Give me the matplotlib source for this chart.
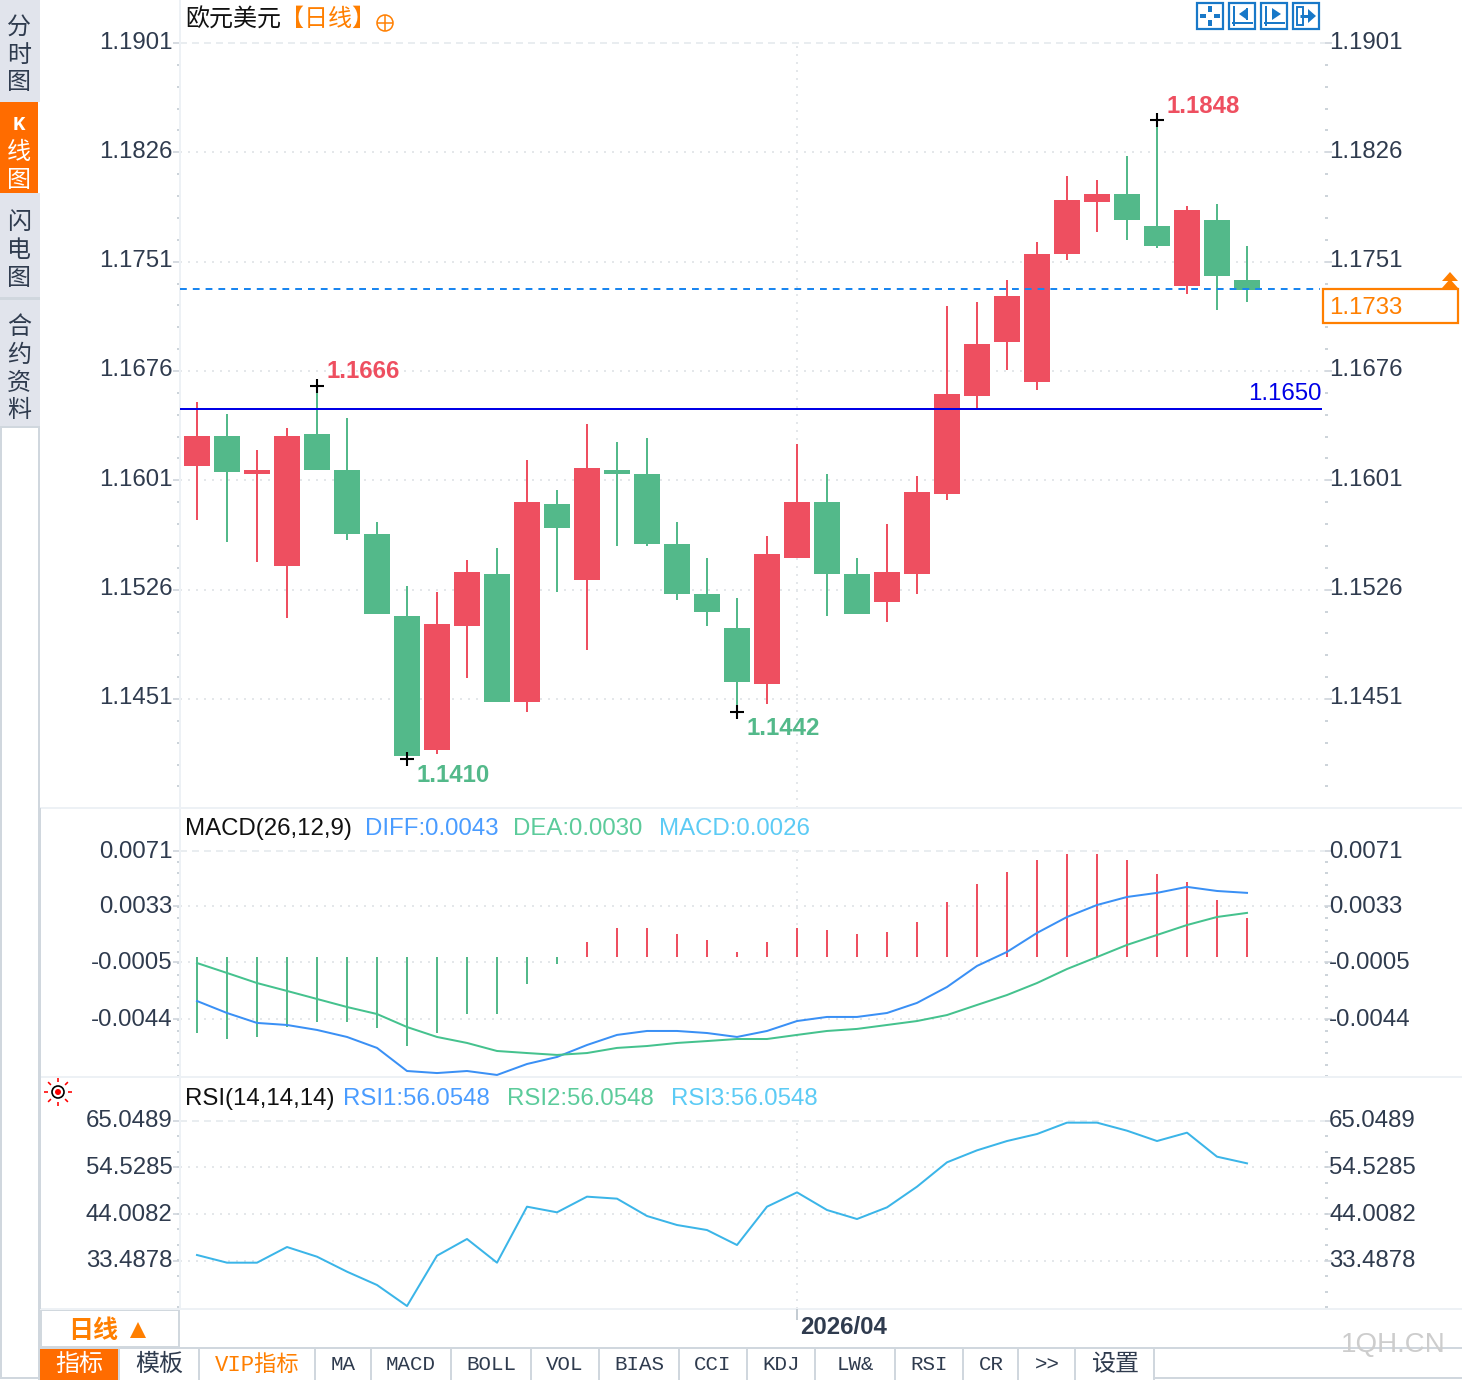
import numpy as np
import matplotlib
matplotlib.use('Agg')
import matplotlib.pyplot as plt
from matplotlib.patches import Rectangle, Circle, Polygon
from matplotlib.transforms import ScaledTranslation

plt.rcParams['font.family'] = ['Liberation Sans', 'Noto Sans CJK SC', 'DejaVu Sans']

# candles
openPrice = [1.16108, 1.16314, 1.16053, 1.15422, 1.16328, 1.16081, 1.15642, 1.15079, 1.14160, 1.15011, 1.15367, 1.14489,
             1.15848, 1.15326, 1.16081, 1.16053, 1.15573, 1.15230, 1.14997, 1.14613, 1.15477, 1.15861, 1.15367, 1.15175,
             1.15367, 1.15916, 1.16588, 1.16959, 1.16684, 1.17563, 1.17919, 1.17974, 1.17755, 1.17343, 1.17796, 1.17384]
closePrice = [1.16314, 1.16067, 1.16081, 1.16314, 1.16081, 1.15642, 1.15093, 1.14119, 1.15024, 1.15381, 1.14489, 1.15861,
              1.15683, 1.16094, 1.16053, 1.15573, 1.15230, 1.15107, 1.14626, 1.15505, 1.15861, 1.15367, 1.15093, 1.15381,
              1.15930, 1.16602, 1.16945, 1.17274, 1.17563, 1.17933, 1.17974, 1.17796, 1.17617, 1.17864, 1.17412, 1.17316]
highPrice = [1.16547, 1.16465, 1.16218, 1.16369, 1.16657, 1.16437, 1.15724, 1.15285, 1.15244, 1.15463, 1.15546, 1.16149,
             1.15944, 1.16396, 1.16273, 1.16300, 1.15724, 1.15477, 1.15203, 1.15628, 1.16259, 1.16053, 1.15477, 1.15710,
             1.16040, 1.17206, 1.17233, 1.17384, 1.17645, 1.18098, 1.18070, 1.18235, 1.18482, 1.17892, 1.17906, 1.17617]
lowPrice = [1.15738, 1.15587, 1.15450, 1.15065, 1.16081, 1.15601, 1.15093, 1.14105, 1.14133, 1.14654, 1.14489, 1.14421,
            1.15244, 1.14846, 1.15559, 1.15559, 1.15189, 1.15011, 1.14421, 1.14476, 1.15477, 1.15079, 1.15093, 1.15038,
            1.15230, 1.15875, 1.16506, 1.16767, 1.16630, 1.17521, 1.17713, 1.17659, 1.17604, 1.17288, 1.17178, 1.17233]

priceTicks = [1.1901, 1.1826, 1.1751, 1.1676, 1.1601, 1.1526, 1.1451]
priceLabels = ['1.1901', '1.1826', '1.1751', '1.1676', '1.1601', '1.1526', '1.1451']
lastPrice = 1.17323
levelPrice = 1.1650
markIndex = [4, 7, 18, 32]
markPrice = [1.1666, 1.1410, 1.1442, 1.1848]

# macd
macdHist = [-.00536, -.00577, -.00563, -.00495, -.00460, -.00460, -.00502, -.00625, -.00536, -.00406, -.00406, -.00200,
            -.00063, .00087, .00183, .00183, .00142, .00101, .00019, .00087, .00183, .00169, .00142, .00156,
            .00224, .00361, .00484, .00566, .00648, .00689, .00689, .00648, .00553, .00498, .00375, .00251]
macdBase = -.00016
diffLine = [-.00317, -.00399, -.00467, -.00481, -.00515, -.00563, -.00638, -.00796, -.00810, -.00796, -.00823, -.00748,
            -.00700, -.00618, -.00549, -.00522, -.00522, -.00536, -.00563, -.00522, -.00454, -.00426, -.00426, -.00399,
            -.00330, -.00221, -.00077, .00019, .00149, .00258, .00340, .00395, .00423, .00464, .00436, .00423]
deaLine = [-.00057, -.00125, -.00194, -.00248, -.00303, -.00358, -.00406, -.00495, -.00563, -.00604, -.00659, -.00673,
           -.00686, -.00673, -.00638, -.00625, -.00604, -.00591, -.00577, -.00577, -.00549, -.00522, -.00508, -.00481,
           -.00454, -.00413, -.00344, -.00276, -.00194, -.00098, -.00016, .00067, .00135, .00203, .00258, .00286]
macdTicks = [0.0071, 0.0033, -0.0005, -0.0044]
macdLabels = ['0.0071', '0.0033', '-0.0005', '-0.0044']

# rsi
rsiLine = [34.78, 33.05, 33.05, 36.58, 34.40, 31.02, 28.02, 23.28, 34.63, 38.39, 33.05, 45.67,
           44.40, 47.93, 47.48, 43.57, 41.54, 40.41, 37.03, 45.67, 48.90, 44.92, 42.89, 45.52,
           50.18, 55.67, 58.37, 60.47, 62.05, 64.61, 64.61, 62.80, 60.47, 62.35, 56.94, 55.44]
rsiTicks = [65.0489, 54.5285, 44.0082, 33.4878]
rsiLabels = ['65.0489', '54.5285', '44.0082', '33.4878']

dateIndex = 20
dateLabel = '2026/04'

RED = '#ee4f60'
GREEN = '#53b98a'
ORANGE = '#ff7f00'
TAB_ORANGE = '#ff6c00'
TEXT = '#2f3b4e'
BORDER = '#d0d7de'
PANEL_LINE = '#edf1f5'
GRID = '#e4e7ea'

W, H = 1462, 1380
fig = plt.figure(figsize=(W / 100, H / 100), dpi=100, facecolor='white')
px = 72 / 100  # one pixel in points


def makePanel(top, bottom, ylim, ticks, labels, minorStep, lift):
    ax = fig.add_axes([180 / W, 1 - bottom / H, (1325 - 180) / W, (bottom - top) / H])
    ax.set_xlim((180 - 197) / 30, (1325 - 197) / 30)
    ax.set_ylim(*ylim)
    minors = np.arange(ticks[0], ylim[0], -minorStep)
    right = ax.twinx()
    for a in [ax, right]:
        a.set_ylim(*ylim)
        a.set_yticks(ticks, labels)
        a.set_yticks(minors, minor=True)
        a.set_xticks([])
        for name, sp in a.spines.items():
            sp.set_visible(False)
        a.tick_params(axis='y', which='major', length=5, width=1.4, color='#d5dbe1',
                      pad=0.5 if a is ax else -2.1, labelsize=17.3, labelcolor=TEXT)
        a.tick_params(axis='y', which='minor', length=2, width=2 * px, color='#cdd4da')
        # the labels sit a little above their gridline
        for lab in a.get_yticklabels():
            lab.set_transform(lab.get_transform() + ScaledTranslation(0, lift / 100, fig.dpi_scale_trans))
    ax.spines['left'].set_visible(True)
    ax.spines['left'].set_color(PANEL_LINE)
    ax.spines['left'].set_linewidth(2 * px)
    ax.set_axisbelow(True)
    ax.grid(axis='y', color=GRID, ls=(0, (1, 3)), lw=2 * px)
    ax.get_ygridlines()[0].set_linestyle((0, (3.5, 2.5)))
    ax.get_ygridlines()[0].set_color('#e9edf0')
    ax.vlines(dateIndex, ylim[0], ticks[0], color=GRID, ls=(0, (1, 3)), lw=2 * px, zorder=0)
    ax.patch.set_alpha(0)
    return ax


# price panel
axPrice = makePanel(0, 808, (1.13762, 1.19305), priceTicks, priceLabels, 0.0015, 3)
idx = np.arange(len(openPrice))
colors = [RED if c >= o else GREEN for o, c in zip(openPrice, closePrice)]
axPrice.vlines(idx, lowPrice, highPrice, colors=colors, lw=2 * px, zorder=3)
axPrice.bar(idx, np.abs(np.array(closePrice) - np.array(openPrice)), bottom=np.minimum(openPrice, closePrice),
            width=26 / 30, color=colors, zorder=4)
axPrice.hlines(levelPrice, (180 - 197) / 30, 37.5, color='#0000e6', lw=2 * px, zorder=5)
axPrice.hlines(lastPrice, (180 - 197) / 30, 37.45, color='#1a86f0', lw=2 * px, ls=(0, (3.4, 3)), zorder=5)
axPrice.text(37.5, levelPrice + 0.00025, '1.1650', color='#0000e6', fontsize=17.3, ha='right', va='bottom')
for i, p in zip(markIndex, markPrice):
    axPrice.plot([i], [p], marker='+', color='black', ms=10, mew=1.5, zorder=6)
    up = closePrice[i] < openPrice[i] and p > 1.16
    col = RED if up else GREEN
    off = 0.00095 if up else -0.00115
    axPrice.annotate(f'{p:.4f}', (i, p + off), xytext=(7, 0), textcoords='offset points', color=col,
                     fontsize=17.3, fontweight='bold', ha='left', va='center', zorder=6)

# macd panel
axMacd = makePanel(809, 1077, (-.00837, .00997), macdTicks, macdLabels, 0.00077, 1.5)
histColors = [RED if v > 0 else GREEN for v in macdHist]
axMacd.vlines(idx, macdBase, macdHist, colors=histColors, lw=2 * px, zorder=3)
axMacd.plot(idx, diffLine, color='#3a90f5', lw=2 * px, zorder=4)
axMacd.plot(idx, deaLine, color='#45c28e', lw=2 * px, zorder=4)

# rsi panel
axRsi = makePanel(1077, 1309, (22.61, 74.90), rsiTicks, rsiLabels, 3.5, 2)
axRsi.plot(idx, rsiLine, color='#3bb5e8', lw=2 * px, zorder=4)

# everything around the chart, in pixel coordinates
ui = fig.add_axes([0, 0, 1, 1], zorder=10)
ui.set_xlim(0, W)
ui.set_ylim(H, 0)
ui.axis('off')


def rect(x0, y0, x1, y1, fc='none', ec='none', lw=0):
    ui.add_patch(Rectangle((x0, y0), x1 - x0, y1 - y0, facecolor=fc, edgecolor=ec, linewidth=lw))


def line(x0, y0, x1, y1, c=BORDER, lw=2):
    ui.plot([x0, x1], [y0, y1], color=c, lw=lw * px, solid_capstyle='butt')


def label(x, y, s, c=TEXT, size=17.3, ha='left', **kw):
    ui.text(x, y, s, color=c, fontsize=size, ha=ha, va='center', **kw)


# left tabs
rect(0, 0, 40, 102, fc='#e1e4ec')
rect(0, 102, 38, 193, fc=TAB_ORANGE)
rect(0, 193, 40, 297, fc='#e1e4ec')
rect(0, 300, 40, 426, fc='#e1e4ec')
rect(0, 297, 40, 300, fc=BORDER)
line(1, 426, 1, 1378)
line(39, 426, 39, 1380)
line(0, 1378, 40, 1378)
line(0, 427, 40, 427)
for y, s in zip([28, 56, 83], '分时图'):
    label(19, y, s, ha='center')
label(19, 124, 'K', c='white', size=15, ha='center', family='Liberation Mono', fontweight='bold')
for y, s in zip([153, 181], '线图'):
    label(19, y, s, c='white', ha='center')
for y, s in zip([223, 251, 279], '闪电图'):
    label(19, y, s, ha='center')
for y, s in zip([328, 356, 384, 411], '合约资料'):
    label(19, y, s, ha='center')

# panel separators
line(40, 808, W, 808, c=PANEL_LINE)
line(40, 1077, W, 1077, c=PANEL_LINE)
line(40, 1309, W, 1309, c=PANEL_LINE)
line(180, 808, 180, 1309, c=PANEL_LINE)
line(797, 1309, 797, 1320, c='#c4ccd3')
line(40, 808, 40, 1309)

# headers
label(185, 20, '欧元美元', c='#111111')
label(280, 20, '【日线】', c=ORANGE)
ui.add_patch(Circle((385, 23), 8, fc='none', ec=ORANGE, lw=1.1))
line(377, 23, 393, 23, c=ORANGE, lw=1.5)
line(385, 15, 385, 31, c=ORANGE, lw=1.5)

label(185, 829, 'MACD(26,12,9)', c='#111111')
label(365, 829, 'DIFF:0.0043', c='#4a9cff')
label(513, 829, 'DEA:0.0030', c='#5ccb9b')
label(659, 829, 'MACD:0.0026', c='#5ccbf5')
label(185, 1099, 'RSI(14,14,14)', c='#111111')
label(343, 1099, 'RSI1:56.0548', c='#4a9cff')
label(507, 1099, 'RSI2:56.0548', c='#5ccb9b')
label(671, 1099, 'RSI3:56.0548', c='#5ccbf5')

# top right buttons
BLUE = '#1878c8'
for x0 in [1197, 1229, 1261, 1293]:
    rect(x0, 3, x0 + 26, 29, ec=BLUE, lw=1.6)
rect(1200, 14, 1206, 18, fc=BLUE)
rect(1214, 14, 1220, 18, fc=BLUE)
rect(1208, 6, 1212, 12, fc=BLUE)
rect(1208, 20, 1212, 26, fc=BLUE)
for x0 in [1229, 1261]:
    line(x0 + 5, 6, x0 + 5, 26, c=BLUE)
    line(x0 + 3, 23, x0 + 24, 23, c=BLUE)
line(1247, 8, 1247, 20, c=BLUE)
ui.add_patch(Polygon([[1239, 14], [1246, 9], [1246, 19]], fc=BLUE))
ui.add_patch(Polygon([[1281, 14], [1272, 8], [1272, 20]], fc=BLUE))
rect(1297, 7, 1303, 25, ec=BLUE, lw=1.4)
line(1300, 16, 1310, 16, c=BLUE, lw=3)
ui.add_patch(Polygon([[1316, 16], [1308, 9], [1308, 23]], fc=BLUE))

# last price box
rect(1323, 289, 1458, 323, fc='white', ec=ORANGE, lw=1.6)
label(1329, 308, '1.1733', c=ORANGE)
ui.add_patch(Polygon([[1450, 272], [1442, 281], [1458, 281]], fc=ORANGE))
ui.add_patch(Polygon([[1450, 279], [1442, 288], [1458, 288]], fc=ORANGE))

# rsi sun icon
ui.add_patch(Circle((58, 1092), 6, fc='none', ec='black', lw=1.2))
ui.add_patch(Circle((58, 1092), 3, fc='red', ec='none'))
for a in np.deg2rad(np.arange(0, 360, 45)):
    line(58 + 10 * np.cos(a), 1092 + 10 * np.sin(a), 58 + 14 * np.cos(a), 1092 + 14 * np.sin(a), c='red', lw=1.6)

# period box and date
rect(41, 1310, 179, 1347, fc='white', ec=BORDER, lw=1.4)
label(68, 1331, '日线', c=ORANGE, size=18, fontweight='bold')
ui.add_patch(Polygon([[138, 1322], [130, 1338], [146, 1338]], fc=ORANGE))
label(800, 1327, dateLabel, fontweight='bold')

# bottom tabs
line(40, 1348, W, 1348)
line(1154, 1378, W, 1378)
rect(40, 1348, 118, 1380, fc=TAB_ORANGE)
label(79, 1365, '指标', c='white', ha='center')
label(159, 1365, '模板', ha='center')
label(257, 1365, 'VIP指标', c=ORANGE, size=16, ha='center', family=['Liberation Mono', 'Noto Sans CJK SC'])
for x in [119, 199, 315, 371, 451, 531, 599, 679, 747, 815, 895, 963, 1018, 1075, 1154]:
    line(x, 1348, x, 1380)
tabCenters = [343, 411, 491, 565, 639, 713, 781, 855, 929, 991, 1047]
tabNames = ['MA', 'MACD', 'BOLL', 'VOL', 'BIAS', 'CCI', 'KDJ', 'LW&', 'RSI', 'CR', '>>']
for x, s in zip(tabCenters, tabNames):
    label(x, 1365, s, size=15, ha='center', family='Liberation Mono')
label(1115, 1365, '设置', ha='center')
label(1393, 1345, '1QH.CN', c='#cdcdcd', size=20, ha='center')

fig.savefig('out.png', dpi=100)
